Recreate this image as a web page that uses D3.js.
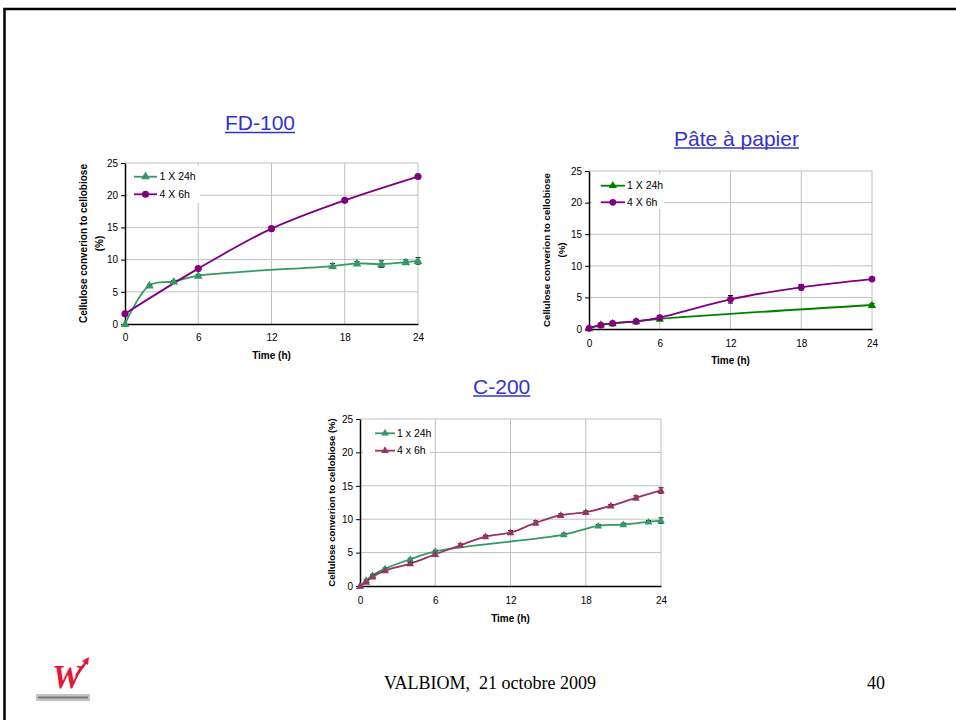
<!DOCTYPE html>
<html><head><meta charset="utf-8">
<script src="https://cdn.jsdelivr.net/npm/d3@7"></script>
<style>body{margin:0;background:#fff}svg{display:block}</style></head>
<body><svg id="c" width="956" height="720"></svg>
<script>
// ---------- data ----------
const xTicks = [0, 6, 12, 18, 24];
const yTicks = [0, 5, 10, 15, 20, 25];

// FD-100
const fdTime24 = [0, 2, 4, 6, 17, 19, 21, 23, 24];
const fdConv24 = [0, 6.0, 6.6, 7.5, 9.0, 9.4, 9.3, 9.6, 9.8];
const fdErr24  = [0, 0.15, 0.15, 0.2, 0.4, 0.3, 0.5, 0.35, 0.5];
const fdTime6  = [0, 6, 12, 18, 24];
const fdConv6  = [1.6, 8.6, 14.8, 19.2, 22.9];
const fdErr6   = [0.1, 0.15, 0.15, 0.2, 0.2];

// Pâte à papier
const ppTime24 = [0, 1, 2, 4, 6, 24];
const ppConv24 = [0.1, 0.7, 0.9, 1.2, 1.6, 3.8];
const ppErr24  = [0, 0.1, 0.1, 0.1, 0.15, 0.25];
const ppTime6  = [0, 1, 2, 4, 6, 12, 18, 24];
const ppConv6  = [0.1, 0.6, 0.9, 1.2, 1.8, 4.7, 6.6, 7.9];
const ppErr6   = [0, 0.1, 0.1, 0.15, 0.2, 0.6, 0.45, 0.2];

// C-200
const cTime24 = [0, 0.5, 1, 2, 4, 6, 16.25, 19, 21, 23, 24];
const cConv24 = [0, 0.85, 1.6, 2.6, 4.0, 5.2, 7.7, 9.0, 9.2, 9.6, 9.8];
const cErr24  = [0, 0.1, 0.1, 0.1, 0.15, 0.15, 0.2, 0.2, 0.2, 0.2, 0.4];
const cTime6  = [0, 0.5, 1, 2, 4, 6, 8, 10, 12, 14, 16, 18, 20, 22, 24];
const cConv6  = [0, 0.6, 1.4, 2.3, 3.35, 4.75, 6.1, 7.4, 8.0, 9.45, 10.6, 11.05, 12.0, 13.2, 14.3];
const cErr6   = [0, 0.1, 0.1, 0.2, 0.2, 0.2, 0.2, 0.2, 0.3, 0.3, 0.2, 0.2, 0.2, 0.3, 0.4];

const yTitleLong = "Cellulose converion to cellobiose";
const xTitle = "Time (h)";

// ---------- drawing ----------
const svg = d3.select('#c');
const FONT = 'Arial, "Liberation Sans", sans-serif';

// slide frame
svg.append('path').attr('d', 'M4.5,720V9H956').attr('fill', 'none')
  .attr('stroke', '#000').attr('stroke-width', 2.5);

function zip(t, v, e) { return t.map((d, i) => ({ t: d, v: v[i], e: e[i] })); }

function drawChart(cfg) {
  const g = svg.append('g');
  const x = d3.scaleLinear().domain([0, 24]).range([cfg.left, cfg.right]);
  const y = d3.scaleLinear().domain([0, 25]).range([cfg.bottom, cfg.top]);

  // title
  const tt = g.append('text').attr('x', cfg.titleX).attr('y', cfg.titleY)
    .attr('text-anchor', 'middle').attr('font-family', FONT).attr('font-size', 21)
    .attr('fill', '#3333cc').text(cfg.title);
  const tw = tt.node().getComputedTextLength();
  g.append('line').attr('x1', cfg.titleX - tw / 2).attr('x2', cfg.titleX + tw / 2)
    .attr('y1', cfg.titleY + 2.5).attr('y2', cfg.titleY + 2.5)
    .attr('stroke', '#3333cc').attr('stroke-width', 1.3);

  // grid
  g.selectAll('.hg').data(yTicks.filter(d => d > 0)).join('line')
    .attr('x1', cfg.left).attr('x2', cfg.right).attr('y1', d => y(d)).attr('y2', d => y(d))
    .attr('stroke', '#c0c0c0').attr('stroke-width', 1);
  g.selectAll('.vg').data(xTicks.filter(d => d > 0)).join('line')
    .attr('y1', cfg.top).attr('y2', cfg.bottom).attr('x1', d => x(d)).attr('x2', d => x(d))
    .attr('stroke', '#c0c0c0').attr('stroke-width', 1);

  // legend background
  g.append('rect').attr('x', cfg.leg.x).attr('y', cfg.leg.y).attr('width', cfg.leg.w)
    .attr('height', cfg.leg.h).attr('fill', '#fff');

  // axes
  const ya = g.append('g').attr('transform', `translate(${cfg.left},0)`)
    .call(d3.axisLeft(y).tickValues(yTicks).tickSize(4).tickSizeOuter(0).tickPadding(3));
  const xa = g.append('g').attr('transform', `translate(0,${cfg.bottom})`)
    .call(d3.axisBottom(x).tickValues(xTicks).tickSize(0).tickSizeOuter(0).tickPadding(cfg.xPad));
  [ya, xa].forEach(a => {
    a.select('.domain').attr('stroke', '#000').attr('stroke-width', 1.5);
    a.selectAll('.tick line').attr('stroke', '#000');
    a.selectAll('text').attr('font-family', FONT).attr('font-size', 10).attr('fill', '#000');
  });

  // axis titles
  g.append('text').attr('x', (cfg.left + cfg.right) / 2).attr('y', cfg.xTitleY)
    .attr('text-anchor', 'middle').attr('font-family', FONT).attr('font-size', 10)
    .attr('font-weight', 'bold').text(xTitle);
  const cy = (cfg.top + cfg.bottom) / 2;
  cfg.yTitle.forEach((line, i) => {
    g.append('text').attr('transform', `translate(${cfg.yTitleX[i]},${cy}) rotate(-90)`)
      .attr('text-anchor', 'middle').attr('dy', '0.35em').attr('font-family', FONT)
      .attr('font-size', cfg.yTitleSize).attr('font-weight', 'bold').text(line);
  });

  // series
  const line = d3.line().x(d => x(d.t)).y(d => y(d.v)).curve(d3.curveCatmullRom.alpha(0.5));
  cfg.series.forEach(s => {
    g.append('path').datum(s.data).attr('d', line).attr('fill', 'none')
      .attr('stroke', s.color).attr('stroke-width', 1.8);
  });
  cfg.series.forEach(s => {
    const eb = g.append('g').attr('stroke', '#000').attr('stroke-width', 1);
    s.data.filter(d => d.e > 0).forEach(d => {
      eb.append('line').attr('x1', x(d.t)).attr('x2', x(d.t)).attr('y1', y(d.v - d.e)).attr('y2', y(d.v + d.e));
      [d.v - d.e, d.v + d.e].forEach(v => eb.append('line').attr('x1', x(d.t) - 2.5).attr('x2', x(d.t) + 2.5)
        .attr('y1', y(v)).attr('y2', y(v)));
    });
  });
  cfg.series.forEach(s => {
    const sym = d3.symbol().type(s.shape === 'tri' ? d3.symbolTriangle : d3.symbolCircle).size(s.size);
    g.selectAll(null).data(s.data).join('path')
      .attr('transform', d => `translate(${x(d.t)},${y(d.v) + (s.shape === 'tri' ? 0.5 : 0)})`)
      .attr('d', sym).attr('fill', s.color);
  });

  // legend items
  cfg.series.forEach((s, i) => {
    const ly = cfg.leg.rows[i];
    g.append('line').attr('x1', cfg.leg.lx1).attr('x2', cfg.leg.lx2).attr('y1', ly).attr('y2', ly)
      .attr('stroke', s.color).attr('stroke-width', 1.8);
    const sym = d3.symbol().type(s.shape === 'tri' ? d3.symbolTriangle : d3.symbolCircle).size(s.size);
    g.append('path').attr('transform', `translate(${(cfg.leg.lx1 + cfg.leg.lx2) / 2},${ly})`)
      .attr('d', sym).attr('fill', s.color);
    g.append('text').attr('x', cfg.leg.tx).attr('y', ly).attr('dy', '0.35em')
      .attr('font-family', FONT).attr('font-size', 10.5).text(s.name);
  });
}

drawChart({
  title: 'FD-100', titleX: 260, titleY: 130,
  left: 125, right: 418, top: 163, bottom: 324, xPad: 10, xTitleY: 358.5,
  yTitle: [yTitleLong, '(%)'], yTitleX: [83, 99], yTitleSize: 10,
  leg: { x: 128, y: 166, w: 72, h: 37, rows: [176.7, 194.3], lx1: 134, lx2: 157, tx: 159.5 },
  series: [
    { name: '1 X 24h', color: '#339966', shape: 'tri', size: 34, data: zip(fdTime24, fdConv24, fdErr24) },
    { name: '4 X 6h', color: '#800080', shape: 'circ', size: 40, data: zip(fdTime6, fdConv6, fdErr6) }
  ]
});

drawChart({
  title: 'Pâte à papier', titleX: 736.5, titleY: 145.5,
  left: 589, right: 872, top: 171, bottom: 329, xPad: 10.5, xTitleY: 363.5,
  yTitle: [yTitleLong, '(%)'], yTitleX: [546.7, 562], yTitleSize: 9.7,
  leg: { x: 592, y: 175, w: 72, h: 34, rows: [185.7, 202.3], lx1: 600.7, lx2: 625, tx: 627 },
  series: [
    { name: '1 X 24h', color: '#008000', shape: 'tri', size: 30, data: zip(ppTime24, ppConv24, ppErr24) },
    { name: '4 X 6h', color: '#800080', shape: 'circ', size: 36, data: zip(ppTime6, ppConv6, ppErr6) }
  ]
});

drawChart({
  title: 'C-200', titleX: 501.7, titleY: 393.5,
  left: 360, right: 661, top: 419, bottom: 586, xPad: 10.5, xTitleY: 621.5,
  yTitle: [yTitleLong + ' (%)'], yTitleX: [331.7], yTitleSize: 9.5,
  leg: { x: 363, y: 423, w: 67, h: 39, rows: [433.3, 450.7], lx1: 375, lx2: 395, tx: 397 },
  series: [
    { name: '1 x 24h', color: '#339966', shape: 'tri', size: 26, data: zip(cTime24, cConv24, cErr24) },
    { name: '4 x 6h', color: '#993366', shape: 'tri', size: 26, data: zip(cTime6, cConv6, cErr6) }
  ]
});

// footer
svg.append('text').attr('x', 490).attr('y', 689).attr('text-anchor', 'middle')
  .attr('font-family', '"Times New Roman", "Liberation Serif", serif').attr('font-size', 18)
  .style('white-space', 'pre').text('VALBIOM,  21 octobre 2009');
svg.append('text').attr('x', 876).attr('y', 689).attr('text-anchor', 'middle')
  .attr('font-family', '"Times New Roman", "Liberation Serif", serif').attr('font-size', 18)
  .text('40');

// logo
const logo = svg.append('g');
logo.append('text').attr('x', 52).attr('y', 688).attr('font-family', '"Liberation Serif", serif')
  .attr('font-style', 'italic').attr('font-weight', 'bold').attr('font-size', 34)
  .attr('fill', '#e5163a').text('W');
logo.append('path').attr('d', 'M76,676 L86,662').attr('stroke', '#e5163a').attr('stroke-width', 2.5);
logo.append('path').attr('d', 'M82,661 L89,657 L88,665 Z').attr('fill', '#e5163a');
logo.append('rect').attr('x', 36).attr('y', 694).attr('width', 54).attr('height', 7).attr('fill', '#c4c4c4');
logo.append('rect').attr('x', 38).attr('y', 696.5).attr('width', 50).attr('height', 2).attr('fill', '#777');
</script>
</body></html>
